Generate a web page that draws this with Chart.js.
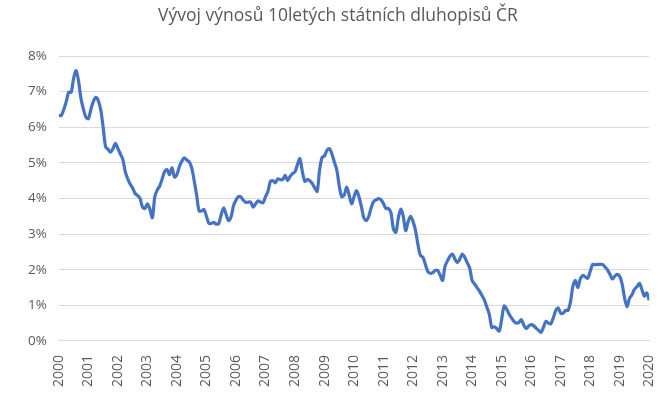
<!DOCTYPE html>
<html><head><meta charset="utf-8">
<script src="https://cdn.jsdelivr.net/npm/chart.js@4"></script>
<style>html,body{margin:0;padding:0;background:#fff}#w{width:672px;height:401px}</style>
</head><body><div id="w"><canvas id="c"></canvas></div>
<script>
const startYear = 2000;
const yields = [
6.33,6.33,6.5,6.72,6.98,6.98,7.38,7.59,7.29,6.8,6.5,6.28,
6.24,6.5,6.72,6.84,6.75,6.5,6.0,5.45,5.38,5.3,5.4,5.55,
5.4,5.25,5.1,4.75,4.55,4.4,4.29,4.14,4.08,4.0,3.76,3.72,
3.85,3.7,3.46,4.05,4.24,4.35,4.55,4.76,4.81,4.67,4.86,4.6,
4.67,4.9,5.05,5.14,5.08,5.03,4.86,4.5,4.1,3.65,3.65,3.69,
3.5,3.3,3.3,3.33,3.28,3.3,3.55,3.74,3.55,3.38,3.48,3.8,
3.95,4.05,4.04,3.95,3.89,3.9,3.9,3.76,3.85,3.93,3.9,3.88,
4.05,4.2,4.48,4.5,4.44,4.55,4.53,4.53,4.65,4.5,4.62,4.7,
4.75,4.95,5.12,4.75,4.48,4.53,4.5,4.42,4.3,4.2,4.8,5.15,
5.2,5.35,5.4,5.25,5.02,4.8,4.35,4.05,4.1,4.32,4.1,3.85,
4.05,4.22,4.05,3.77,3.45,3.38,3.5,3.75,3.92,3.96,4.0,3.96,
3.85,3.72,3.72,3.6,3.15,3.05,3.45,3.7,3.5,3.1,3.35,3.5,
3.35,3.1,2.7,2.4,2.35,2.15,1.95,1.9,1.92,1.98,1.98,1.85,
1.7,2.1,2.25,2.38,2.44,2.3,2.2,2.3,2.44,2.35,2.2,2.05,
1.7,1.6,1.5,1.4,1.28,1.15,0.95,0.75,0.38,0.4,0.35,0.28,
0.6,0.98,0.9,0.76,0.65,0.55,0.5,0.52,0.6,0.45,0.35,0.42,
0.46,0.43,0.36,0.3,0.24,0.38,0.55,0.5,0.48,0.65,0.85,0.93,
0.78,0.78,0.86,0.86,1.1,1.55,1.7,1.5,1.75,1.84,1.8,1.76,
1.95,2.15,2.14,2.15,2.15,2.15,2.08,2.0,1.88,1.74,1.82,1.87,
1.82,1.6,1.2,0.96,1.2,1.3,1.45,1.52,1.62,1.45,1.26,1.35,
1.14];
const points = yields.map((v,i)=>({x:startYear+i/12,y:v}));
const txt='#595959', grid='#d9d9d9';
new Chart(document.getElementById('c'),{
type:'line',
data:{datasets:[{data:points,borderColor:'#4472C4',borderWidth:3.2,pointRadius:0,tension:0.3,fill:false}]},
options:{responsive:true,maintainAspectRatio:false,animation:false,
layout:{padding:{left:16,right:12,top:4,bottom:8}},
plugins:{legend:{display:false},tooltip:{enabled:false},
 title:{display:true,text:'Vývoj výnosů 10letých státních dluhopisů ČR',color:txt,font:{family:'Open Sans',size:17.5,weight:'normal'},padding:{top:2,bottom:29}}},
scales:{
 x:{type:'linear',min:2000,max:2020,
  ticks:{stepSize:1,minRotation:90,maxRotation:90,color:txt,font:{family:'Open Sans',size:14},callback:v=>String(v),autoSkip:false,padding:6},
  grid:{display:false},border:{color:grid}},
 y:{min:0,max:8,ticks:{stepSize:1,color:txt,font:{family:'Open Sans',size:13.5},callback:v=>v+'%',padding:12},
  grid:{color:grid,drawTicks:false},border:{display:false}}
}}});
</script></body></html>
